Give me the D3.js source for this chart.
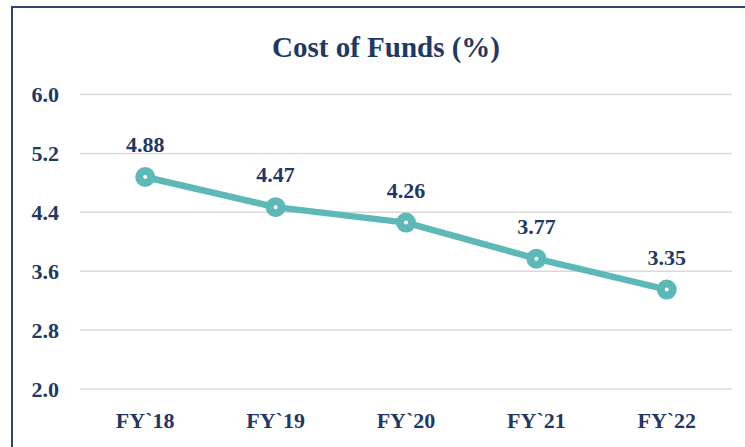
<!DOCTYPE html>
<html>
<head>
<meta charset="utf-8">
<script src="https://cdn.jsdelivr.net/npm/d3@7"></script>
<style>
  body { margin: 0; background: #fff; }
  text { font-family: "Liberation Serif", "DejaVu Serif", serif; font-weight: bold; fill: #1F3864; }
</style>
</head>
<body>
<script>
'use strict';
// chart data
const years = ["FY`18", "FY`19", "FY`20", "FY`21", "FY`22"];
const costOfFunds = [4.88, 4.47, 4.26, 3.77, 3.35];
const yTicks = [2.0, 2.8, 3.6, 4.4, 5.2, 6.0];

(function() {
    const width = 745, height = 447;
    const lineColor = "#5DB9B8";

    let svg = d3.select("body").append("svg")
        .attr("width", width)
        .attr("height", height);

    // outer frame (right and bottom edges run off the picture)
    svg.append("rect")
        .attr("x", 12).attr("y", 7)
        .attr("width", 760).attr("height", 460)
        .attr("fill", "white")
        .attr("stroke", "#2E4677")
        .attr("stroke-width", 2);

    // title
    svg.append("text")
        .attr("x", 386).attr("y", 57)
        .attr("text-anchor", "middle")
        .style("font-size", "29px")
        .text("Cost of Funds (%)");

    // scales
    let xScale = d3.scaleBand()
        .domain(years)
        .range([80, 732]);

    let yScale = d3.scaleLinear()
        .domain([2.0, 6.0])
        .range([389, 94.5]);

    // gridlines
    svg.append("g").selectAll("line")
        .data(yTicks)
        .enter()
        .append("line")
            .attr("x1", 80).attr("x2", 732)
            .attr("y1", d => yScale(d)).attr("y2", d => yScale(d))
            .attr("stroke", "#D9D9D9")
            .attr("stroke-width", 1.5);

    // y axis labels
    let yAxis = d3.axisLeft(yScale)
        .tickValues(yTicks)
        .tickFormat(d3.format(".1f"))
        .tickSize(0)
        .tickPadding(0);
    let yG = svg.append("g")
        .attr("transform", "translate(59,0)")
        .call(yAxis);
    yG.select(".domain").remove();
    yG.selectAll("text")
        .attr("fill", "#1F3864")
        .style("font-family", "'Liberation Serif', serif")
        .style("font-weight", "bold")
        .style("font-size", "22px");

    // x axis labels
    let xAxis = d3.axisBottom(xScale).tickSize(0).tickPadding(0);
    let xG = svg.append("g")
        .attr("transform", "translate(0,412)")
        .call(xAxis);
    xG.select(".domain").remove();
    xG.selectAll("text")
        .attr("fill", "#1F3864")
        .style("font-family", "'Liberation Serif', serif")
        .style("font-weight", "bold")
        .style("font-size", "22px");

    let xMap = (d, i) => xScale(years[i]) + xScale.bandwidth() / 2;
    let yMap = d => yScale(d);

    // line
    let line = d3.line()
        .x(xMap)
        .y(yMap);

    svg.append("path")
        .datum(costOfFunds)
        .attr("d", line)
        .attr("fill", "none")
        .attr("stroke", lineColor)
        .attr("stroke-width", 6.5)
        .attr("stroke-linejoin", "round");

    // markers: thick ring with a small white hole
    svg.selectAll(".dot")
        .data(costOfFunds)
        .enter()
        .append("circle")
            .attr("class", "dot")
            .attr("cx", xMap)
            .attr("cy", yMap)
            .attr("r", 6)
            .attr("fill", "white")
            .attr("stroke", lineColor)
            .attr("stroke-width", 8);

    // value labels
    svg.selectAll(".val")
        .data(costOfFunds)
        .enter()
        .append("text")
            .attr("class", "val")
            .attr("x", xMap)
            .attr("y", d => yMap(d) - 25)
            .attr("text-anchor", "middle")
            .style("font-size", "22px")
            .text(d => d.toFixed(2));
})();
</script>
</body>
</html>
